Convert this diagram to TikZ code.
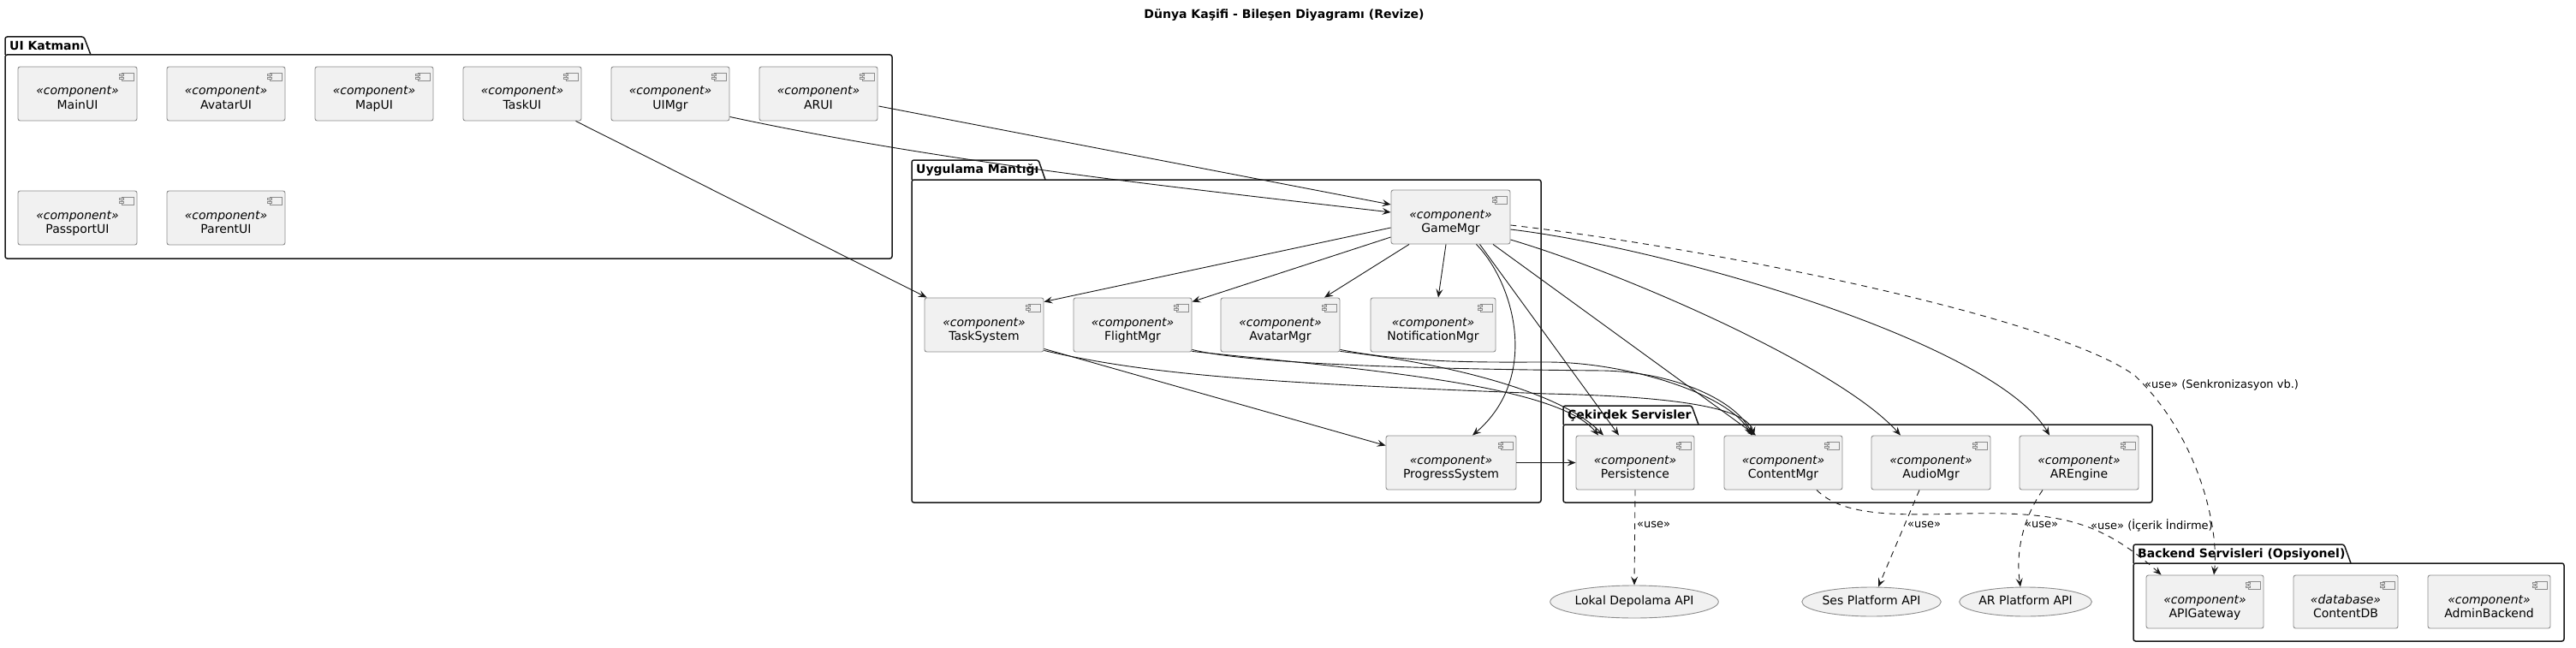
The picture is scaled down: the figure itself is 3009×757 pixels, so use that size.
\documentclass[tikz,border=0pt]{standalone}
\usepackage{fontspec}
\setmainfont{DejaVu Sans}
\usetikzlibrary{arrows.meta,calc,shapes.geometric}
\definecolor{compfill}{HTML}{F1F1F1}
\definecolor{compline}{HTML}{8C8C8C}
\definecolor{ink}{HTML}{181818}
\tikzset{
 compbox/.style={draw=compline, fill=compfill, line width=0.9pt, rounded corners=2.5pt, inner sep=0pt},
 stereotxt/.style={font=\fontsize{14}{16}\selectfont\itshape, inner sep=0pt, anchor=base},
 nametxt/.style={font=\fontsize{14}{16}\selectfont, inner sep=0pt, anchor=base},
 iconbox/.style={fill=compfill, draw=compline, line width=0.7pt},
 pkgline/.style={draw=ink, line width=1.5pt},
 pkgtxt/.style={font=\fontsize{14}{16}\selectfont\bfseries, inner sep=0pt, anchor=base west},
 iface/.style={ellipse, draw=compline, fill=compfill, line width=0.9pt, inner sep=0pt, font=\fontsize{14}{16}\selectfont, text height=10pt, text depth=3pt},
 dep/.style={draw=ink, line width=0.9pt, -{Stealth[length=10pt,width=8pt,inset=4pt]}},
 usedep/.style={dep, dash pattern=on 7pt off 6pt},
 elabel/.style={font=\fontsize{13}{15}\selectfont, inner sep=0pt, anchor=west},
}
\newcommand\comp[7]{%
 \node[compbox, minimum width={#4-#2}, minimum height={#5-#3}] (#1) at ({(#2+#4)/2},{(#3+#5)/2}) {};
 \node[stereotxt] (#1-s) at ({(#2+#4)/2},{#3+33}) {«#6»};
 \node[nametxt] (#1-n) at ({(#2+#4)/2},{#3+49.3}) {#7};
 \filldraw[iconbox] ({#4-18},{#3+7}) rectangle ({#4-3.5},{#3+16});
 \filldraw[iconbox] ({#4-20.5},{#3+8.7}) rectangle ({#4-15.5},{#3+10.7});
 \filldraw[iconbox] ({#4-20.5},{#3+12.3}) rectangle ({#4-15.5},{#3+14.3});
}
\newcommand\pkg[8]{%
 \draw[pkgline, rounded corners=2.5pt] (#1,#4) -- (#1,#2) -- (#3,#2) -- ({#3+8},#4);
 \draw[pkgline, rounded corners=2.5pt] (#1,#4) rectangle (#5,#6);
 \node[pkgtxt] (#8) at ({#1+5},{#2+15.5}) {#7};
}
\begin{document}
\begin{tikzpicture}[x=1pt,y=-1pt]
\fill[white] (0,0) rectangle (3009,757);
\useasboundingbox (0,0) rectangle (3009,757);

\node[font=\fontsize{14}{16}\selectfont\bfseries, anchor=base, inner sep=0pt] (title) at (1500,22) {Dünya Kaşifi - Bileşen Diyagramı (Revize)};

% packages
\pkg{6}{43}{98}{64}{1042}{302}{UI Katmanı}{pkgui}
\pkg{1065}{187}{1213}{210}{1800}{587}{Uygulama Mantığı}{pkgapp}
\pkg{1826}{474}{1976}{496}{2514}{587}{Çekirdek Servisler}{pkgcore}
\pkg{2492}{636}{2738}{658}{2995}{749}{Backend Servisleri (Opsiyonel)}{pkgback}

% UI components
\comp{mainui}{21}{78}{160}{141}{component}{MainUI}
\comp{avatarui}{195}{78}{333}{141}{component}{AvatarUI}
\comp{mapui}{368}{78}{506}{141}{component}{MapUI}
\comp{taskui}{541}{78}{679}{141}{component}{TaskUI}
\comp{uimgr}{714}{78}{852}{141}{component}{UIMgr}
\comp{arui}{887}{78}{1025}{141}{component}{ARUI}
\comp{passportui}{21}{223}{160}{286}{component}{PassportUI}
\comp{parentui}{195}{223}{333}{286}{component}{ParentUI}

% application logic
\comp{gm}{1625}{222}{1764}{285}{component}{GameMgr}
\comp{ts}{1080}{348}{1219}{411}{component}{TaskSystem}
\comp{fm}{1254}{348}{1392}{411}{component}{FlightMgr}
\comp{am}{1426}{348}{1565}{411}{component}{AvatarMgr}
\comp{nm}{1601}{348}{1747}{411}{component}{NotificationMgr}
\comp{ps}{1619}{509}{1771}{572}{component}{ProgressSystem}

% core services
\comp{pers}{1841}{509}{1979}{572}{component}{Persistence}
\comp{cm}{2014}{509}{2152}{572}{component}{ContentMgr}
\comp{aud}{2186}{509}{2325}{572}{component}{AudioMgr}
\comp{are}{2359}{509}{2498}{572}{component}{AREngine}

% backend
\comp{api}{2507}{672}{2644}{734}{component}{APIGateway}
\comp{cdb}{2679}{672}{2801}{734}{database}{ContentDB}
\comp{admin}{2836}{672}{2979}{734}{component}{AdminBackend}

% external APIs
\node[iface, minimum width=168, minimum height=38] (lokal) at (1909,703) {Lokal Depolama API};
\node[iface, minimum width=147, minimum height=34] (ses) at (2186,703) {Ses Platform API};
\node[iface, minimum width=143, minimum height=34] (arp) at (2366,703) {AR Platform API};

% connectors
\draw[dep] ($(arui.east)+(1,14.5)$) -- ($(gm.west)+(0,-14.5)$);
\draw[dep] ($(uimgr.south east)+(0,-5)$) .. controls (1102,190) and (1375,219) .. ($(gm.west)+(0,-5.5)$);
\draw[dep] ($(taskui.south east)+(-7,0)$) -- ($(ts.north west)+(3,0)$);
\draw[dep] ($(gm.west)+(0,12.5)$) -- ($(ts.north east)+(0,5)$);
\draw[dep] ($(gm.west)+(0,23.5)$) -- ($(fm.north east)+(0,5)$);
\draw[dep] ($(gm.south)+(-48.5,0)$) -- ($(am.north)+(51.5,0)$);
\draw[dep] ($(gm.south)+(-5.5,0)$) -- ($(nm.north)+(6,0)$);
\draw[dep] ($(gm.south)+(30,0)$) .. controls (1768,330) and (1800,440) .. ($(ps.north)+(25,0)$);
\draw[dep] ($(gm.south)+(34,0)$) -- ($(pers.north)+(-19,0)$);
\draw[dep] ($(gm.south)+(49.5,0)$) -- ($(cm.north)+(-32,0)$);
\draw[dep] ($(gm.east)+(0,26.5)$) .. controls (1900,320) and (2150,430) .. ($(aud.north)+(-35.5,0)$);
\draw[dep] ($(gm.east)+(0,14.5)$) .. controls (1950,290) and (2330,400) .. ($(are.north)+(-34.5,0)$);
\coordinate (syncmid) at (2494,439);
\draw[usedep] ($(gm.east)+(0,9.5)$) .. controls (2000,290) and (2400,370) .. (syncmid) .. controls (2570,512) and (2592,620) .. ($(api.north)+(10.5,0)$);
\node[elabel] (lsync) at (2505,450) {«use» (Senkronizasyon vb.)};

\draw[dep] ($(ts.south east)+(0,-4)$) -- ($(ps.west)+(0,-20)$);
\coordinate (tsmid) at (1807,460);
\coordinate (fmmid) at (1873,433);
\coordinate (ammid) at (1807,423);
\draw[dep] ($(ts.south east)+(0,-2)$) .. controls (1350,440) and (1500,448) .. (tsmid) .. controls (1950,463) and (2040,475) .. ($(cm.north)+(-34,0)$);
\draw[dep] ($(fm.south east)+(0,-3)$) .. controls (1460,425) and (1650,431) .. (fmmid) .. controls (1960,435) and (2030,470) .. ($(cm.north)+(-36,0)$);
\draw[dep] ($(am.south east)+(0,-3)$) .. controls (1650,425) and (1740,423) .. (ammid) .. controls (1900,423) and (2020,460) .. ($(cm.north)+(-37,0)$);
\draw[dep] ($(fm.south east)+(0,-1)$) .. controls (1600,432) and (1820,450) .. ($(pers.north)+(-43,0)$);
\draw[dep] ($(am.south east)+(0,-1)$) .. controls (1680,423) and (1820,455) .. ($(pers.north)+(-37,0)$);
\draw[dep] (ps.east) -- (pers.west);

\draw[usedep] (pers.south) -- (lokal.north);
\node[elabel] (l1) at (1912,613) {«use»};
\draw[usedep] ($(aud.south)+(-13.5,0)$) -- ($(ses.north)+(8,0)$);
\node[elabel] (l2) at (2228,613) {«use»};
\draw[usedep] ($(are.south)+(-42.5,0)$) .. controls (2360,610) and (2355,650) .. ($(arp.north)+(-6,0)$);
\node[elabel] (l3) at (2365,613) {«use»};
\coordinate (cmmid) at (2290,600);
\draw[usedep] ($(cm.south)+(39,0)$) .. controls (2150,600) and (2200,603) .. (cmmid) .. controls (2400,598) and (2450,605) .. ($(api.north west)+(18,0)$);
\node[elabel] (l4) at (2442,614) {«use» (İçerik İndirme)};
\end{tikzpicture}
\end{document}
